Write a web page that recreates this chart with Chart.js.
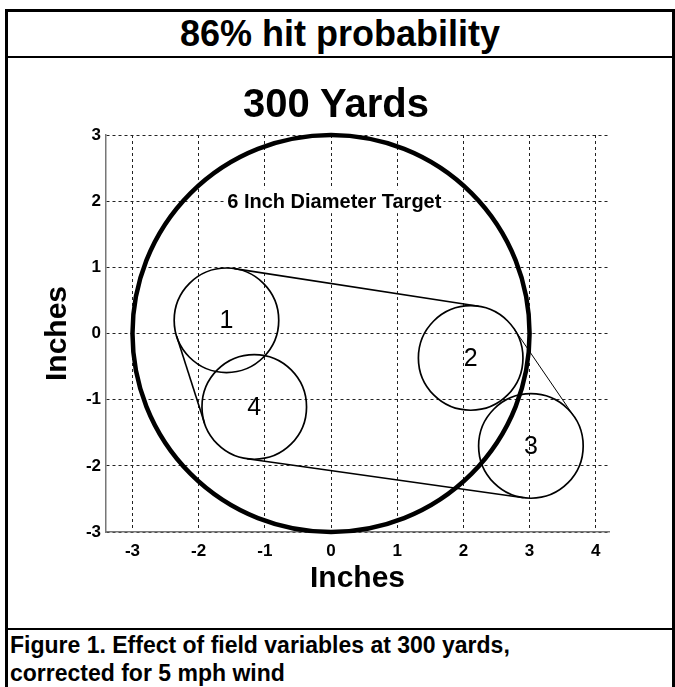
<!DOCTYPE html>
<html>
<head>
<meta charset="utf-8">
<script src="https://cdn.jsdelivr.net/npm/chart.js@4.4.0/dist/chart.umd.min.js"></script>
<style>
  body { margin: 0; width: 675px; height: 687px; background: #fff; position: relative; overflow: hidden;
         font-family: "Liberation Sans", Arial, sans-serif; color: #000; }
  .rule { position: absolute; background: #000; }
  #head { position: absolute; left: 8px; width: 664px; top: 12px; height: 44px; line-height: 44px;
          text-align: center; font-weight: bold; font-size: 36px; }
  #title { position: absolute; left: 236px; width: 200px; top: 80px; height: 46px; line-height: 46px;
           text-align: center; font-weight: bold; font-size: 40px; white-space: nowrap; }
  #wrap { position: absolute; left: 8px; top: 59px; width: 662px; height: 569px; }
  #cap { position: absolute; left: 10px; top: 631px; font-weight: bold; font-size: 23px; line-height: 28px; }
</style>
</head>
<body>
<div class="rule" style="left:5px;top:9px;width:670px;height:3px"></div>
<div class="rule" style="left:5px;top:9px;width:3px;height:680px"></div>
<div class="rule" style="left:672px;top:9px;width:3px;height:680px"></div>
<div class="rule" style="left:5px;top:56px;width:670px;height:2px"></div>
<div class="rule" style="left:5px;top:628px;width:670px;height:2px"></div>
<div id="head">86% hit probability</div>
<div id="wrap"><canvas id="chart"></canvas></div>
<div id="title">300 Yards</div>
<div id="cap">Figure 1. Effect of field variables at 300 yards,<br>corrected for 5 mph wind</div>
<script>
// shot groups (inches)
const groupNames = ['1', '2', '3', '4'];
const groupX = [-1.58, 2.11, 3.02, -1.16];
const groupY = [0.20, -0.37, -1.70, -1.11];
const groupR = [0.79, 0.79, 0.79, 0.79];
const hullOrder = [0, 1, 2, 3];

// the target itself
const targetX = 0;
const targetY = 0;
const targetR = 3;
const targetLabel = '6 Inch Diameter Target';
const targetLabelX = 0.05;
const targetLabelY = 2.0;

const xTickValues = [-3, -2, -1, 0, 1, 2, 3, 4];
const yTickValues = [-3, -2, -1, 0, 1, 2, 3];

function radiusPx(chart, r) {
    const xs = chart.scales.x;
    return Math.abs(xs.getPixelForValue(r) - xs.getPixelForValue(0));
}

const overlay = {
    id: 'overlay',
    afterDatasetsDraw(chart) {
        const ctx = chart.ctx;
        const xs = chart.scales.x, ys = chart.scales.y;
        ctx.save();

        // hull lines - outer tangents between neighbouring groups
        ctx.strokeStyle = '#000';
        for (let k = 0; k < hullOrder.length; k++) {
            const i = hullOrder[k], j = hullOrder[(k + 1) % hullOrder.length];
            const dx = groupX[j] - groupX[i], dy = groupY[j] - groupY[i];
            const d = Math.hypot(dx, dy);
            const ux = dx / d, uy = dy / d;
            const c = (groupR[i] - groupR[j]) / d;
            const s = Math.sqrt(1 - c * c);
            const nx = ux * c - uy * s, ny = uy * c + ux * s;
            ctx.lineWidth = k === 1 ? 1 : 1.6;
            ctx.beginPath();
            ctx.moveTo(xs.getPixelForValue(groupX[i] + groupR[i] * nx), ys.getPixelForValue(groupY[i] + groupR[i] * ny));
            ctx.lineTo(xs.getPixelForValue(groupX[j] + groupR[j] * nx), ys.getPixelForValue(groupY[j] + groupR[j] * ny));
            ctx.stroke();
        }

        // group numbers
        ctx.fillStyle = '#000';
        ctx.font = '25px "Liberation Sans", Arial, sans-serif';
        ctx.textAlign = 'center';
        ctx.textBaseline = 'middle';
        groupNames.forEach((n, i) => {
            ctx.fillText(n, xs.getPixelForValue(groupX[i]), ys.getPixelForValue(groupY[i]) + 1);
        });

        // target caption on a white box
        ctx.font = 'bold 20px "Liberation Sans", Arial, sans-serif';
        const tx = xs.getPixelForValue(targetLabelX), ty = ys.getPixelForValue(targetLabelY);
        const w = ctx.measureText(targetLabel).width;
        ctx.fillStyle = '#fff';
        ctx.fillRect(tx - w / 2 - 2, ty - 12, w + 4, 24);
        ctx.fillStyle = '#000';
        ctx.fillText(targetLabel, tx, ty + 1);
        ctx.restore();
    }
};

const tickFont = { family: '"Liberation Sans", Arial, sans-serif', size: 17, weight: 'bold' };
const titleFont = { family: '"Liberation Sans", Arial, sans-serif', size: 30, weight: 'bold' };

new Chart(document.getElementById('chart'), {
    type: 'scatter',
    data: {
        datasets: [
            {
                label: 'target',
                data: [{ x: targetX, y: targetY }],
                pointRadius: c => radiusPx(c.chart, targetR),
                pointBorderWidth: 4.5,
                pointBorderColor: '#000',
                pointBackgroundColor: 'rgba(0,0,0,0)',
                clip: false
            },
            {
                label: 'groups',
                data: groupX.map((x, i) => ({ x: x, y: groupY[i] })),
                pointRadius: c => radiusPx(c.chart, groupR[c.dataIndex]),
                pointBorderWidth: 1.7,
                pointBorderColor: '#000',
                pointBackgroundColor: 'rgba(0,0,0,0)',
                clip: false
            }
        ]
    },
    options: {
        animation: false,
        responsive: true,
        maintainAspectRatio: false,
        events: [],
        layout: { padding: { left: 0, right: 61, top: 76, bottom: 0 } },
        plugins: {
            legend: { display: false },
            tooltip: { enabled: false },
            title: { display: false }
        },
        scales: {
            x: {
                type: 'linear',
                min: -3.4,
                max: 4.2,
                afterBuildTicks: s => { s.ticks = xTickValues.map(v => ({ value: v })); },
                afterFit: s => { s.height = 96; },
                ticks: { color: '#000', font: tickFont, padding: 9 },
                grid: { color: '#222', lineWidth: 1, drawTicks: false },
                border: { color: '#777', width: 1.5, dash: [3, 3] },
                title: { display: true, text: 'Inches', color: '#000', font: titleFont, padding: { top: 0, bottom: 31 } }
            },
            y: {
                type: 'linear',
                min: -3,
                max: 3,
                afterBuildTicks: s => { s.ticks = yTickValues.map(v => ({ value: v })); },
                afterFit: s => { s.width = 98; },
                ticks: { color: '#000', font: tickFont, padding: 5 },
                grid: { color: '#222', lineWidth: 1, drawTicks: false },
                border: { color: '#777', width: 1.5, dash: [3, 3] },
                title: { display: true, text: 'Inches', color: '#000', font: titleFont, padding: { top: 32, bottom: 0 } }
            }
        }
    },
    plugins: [overlay]
});
</script>
</body>
</html>
